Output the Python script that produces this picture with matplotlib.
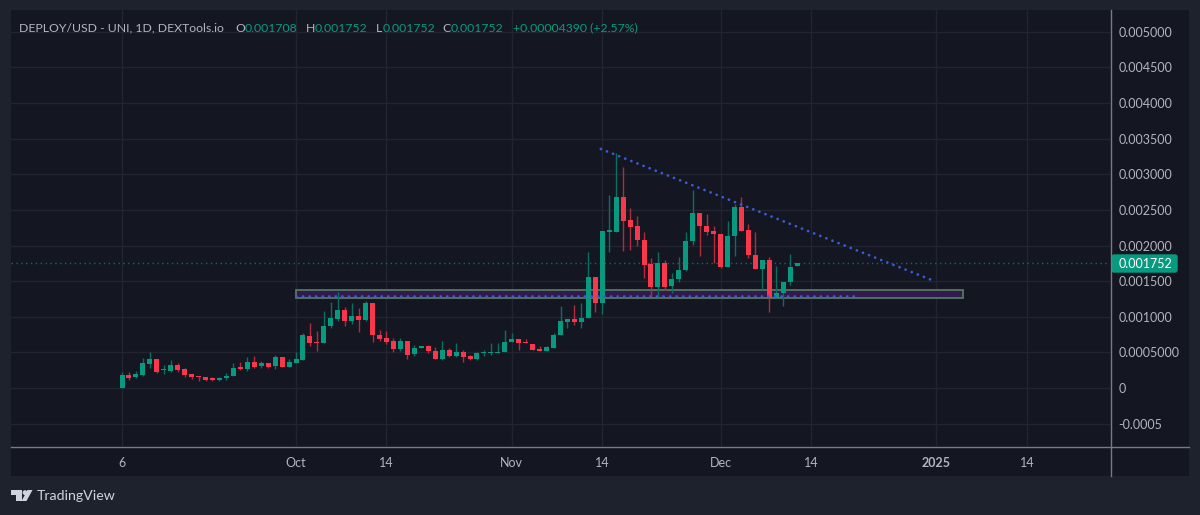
import numpy as np
import matplotlib
matplotlib.use('Agg')
import matplotlib.pyplot as plt
from matplotlib.patches import Rectangle, Polygon, Circle, FancyBboxPatch

plt.rcParams['font.family'] = ['Lato', 'DejaVu Sans']

# OHLC per day, first candle is Sep 6, values in millionths of a dollar
opens = [5, 183, 150, 183, 341, 407, 253, 243, 319, 267, 192, 168, 150, 136, 112, 136, 173, 291, 271, 361,
         309, 347, 309, 431, 295, 355, 393, 734, 650, 628, 870, 965, 1099, 945, 1011, 959, 1193, 744, 698, 656,
         552, 664, 473, 562, 590, 524, 403, 534, 445, 501, 449, 403, 487, 496, 496, 501, 646, 688, 646, 618,
         552, 524, 566, 740, 922, 965, 931, 987, 1554, 1189, 2194, 2194, 2686, 2359, 2270, 2078, 1741, 1414, 1755, 1436,
         1530, 1661, 2064, 2453, 2279, 2204, 2166, 1695, 2138, 2541, 2214, 1871, 1671, 1793, 1264, 1330, 1488, 1708]
highs = [225, 229, 243, 425, 505, 407, 319, 393, 347, 277, 192, 168, 150, 150, 159, 215, 347, 365, 435, 449,
         379, 347, 463, 431, 403, 505, 776, 908, 804, 1081, 1203, 1348, 1141, 1189, 1123, 1226, 1193, 814, 796, 698,
         698, 664, 604, 590, 604, 580, 656, 566, 628, 534, 459, 501, 534, 636, 628, 814, 768, 688, 688, 618,
         590, 585, 768, 1155, 965, 1170, 1198, 1914, 1554, 2204, 2710, 3295, 3099, 2523, 2415, 2195, 1821, 1905, 1797, 1610,
         1835, 2186, 2787, 2453, 2450, 2274, 2166, 2349, 2583, 2677, 2307, 2195, 1793, 1843, 1713, 1488, 1877, 1752]
lows = [0, 112, 136, 168, 285, 206, 197, 229, 220, 150, 131, 98, 94, 94, 98, 117, 168, 253, 243, 277,
        277, 277, 263, 295, 295, 347, 393, 594, 524, 628, 847, 936, 875, 894, 782, 945, 642, 656, 618, 510,
        519, 403, 453, 562, 487, 403, 393, 431, 431, 369, 393, 393, 449, 459, 496, 501, 646, 534, 628, 534,
        524, 519, 566, 740, 847, 885, 847, 987, 1067, 1039, 1914, 2194, 1923, 1938, 1994, 1540, 1282, 1282, 1376, 1330,
        1492, 1647, 2008, 1853, 2148, 1759, 1678, 1695, 1853, 2208, 1821, 1671, 1376, 1071, 1264, 1151, 1442, 1708]
closes = [183, 136, 197, 347, 407, 229, 271, 319, 253, 183, 154, 154, 112, 117, 140, 173, 281, 271, 361, 299,
          347, 299, 431, 295, 361, 403, 744, 636, 632, 875, 979, 1099, 945, 1011, 959, 1193, 740, 684, 646, 552,
          664, 468, 562, 590, 519, 403, 529, 445, 501, 435, 403, 487, 505, 505, 510, 650, 688, 628, 628, 534,
          524, 576, 748, 936, 965, 922, 987, 1554, 1189, 2204, 2218, 2686, 2349, 2256, 2074, 1731, 1414, 1755, 1422, 1530,
          1661, 2068, 2453, 2274, 2195, 2162, 1695, 2138, 2541, 2208, 1867, 1671, 1793, 1268, 1330, 1488, 1699, 1752]

price_ticks = [-0.0005, 0, 0.0005, 0.001, 0.0015, 0.002, 0.0025, 0.003, 0.0035, 0.004, 0.0045, 0.005]
price_labels = ['-0.0005', '0', '0.0005000', '0.001000', '0.001500', '0.002000', '0.002500', '0.003000',
                '0.003500', '0.004000', '0.004500', '0.005000']
date_ticks = [0, 25, 38, 56, 69, 86, 99, 117, 130]
date_labels = ['6', 'Oct', '14', 'Nov', '14', 'Dec', '14', '2025', '14']

last_price = 0.001752
trend_days = [68.8, 116.7]
trend_prices = [0.003356, 0.001502]
support_days = [25, 105.7]
support_price = 0.001285
zone_days = [25, 120.8]
zone_prices = [0.001264, 0.001383]

OUTER = '#1e222d'
PANEL = '#141722'
GRID = '#22252f'
AXIS = '#787b86'
TEXT = '#b2b5be'
GREEN = '#089981'
RED = '#f7374b'
DOTS = '#3a5cdc'
FS = 9.0

fig = plt.figure(figsize=(12, 5.15), dpi=100, facecolor=OUTER)

# panel behind the chart, coordinates are screen pixels
back = fig.add_axes([0, 0, 1, 1], zorder=0)
back.set_xlim(0, 1200)
back.set_ylim(515, 0)
back.axis('off')
back.add_patch(Rectangle((11, 10), 1178, 466, fc=PANEL, ec='none'))

ax = fig.add_axes([11 / 1200, 1 - 446 / 515, 1099 / 1200, 436 / 515], zorder=1)
ax.set_facecolor(PANEL)
ax.set_xlim(-15.95, 141.95)
ax.set_ylim(-0.000814, 0.005307)
for side in ax.spines.values():
    side.set_visible(False)

ax.yaxis.tick_right()
ax.set_yticks(price_ticks, price_labels)
ax.set_xticks(date_ticks, date_labels)
ax.tick_params(axis='y', length=0, pad=6, labelsize=FS, labelcolor=TEXT)
ax.tick_params(axis='x', length=0, pad=8, labelsize=FS, labelcolor=TEXT)
ax.get_xticklabels()[7].set_fontweight('bold')
ax.grid(True, color=GRID, linewidth=1)
ax.set_axisbelow(True)

days = np.arange(len(opens))
o = np.array(opens) / 1e6
h = np.array(highs) / 1e6
l = np.array(lows) / 1e6
c = np.array(closes) / 1e6
colors = [GREEN if b >= a else RED for a, b in zip(o, c)]
wick_colors = ['#0b6f60' if b >= a else '#b02c3c' for a, b in zip(o, c)]

# drawings sit under the candles, only the dotted lines go on top
ax.add_patch(Rectangle((zone_days[0], zone_prices[0]), zone_days[1] - zone_days[0], zone_prices[1] - zone_prices[0],
                       fc='#321a4e', ec='#56785f', linewidth=1.3, zorder=2.5))
ax.vlines(days, l, h, colors=wick_colors, linewidth=1, zorder=3)
ax.bar(days, np.abs(c - o), bottom=np.minimum(o, c), width=0.72, color=colors, linewidth=0, zorder=4)

ax.plot(support_days, [support_price, support_price], color=DOTS, linewidth=2.0,
        linestyle=(0, (0.01, 2.35)), dash_capstyle='round', zorder=6)
ax.plot(trend_days, trend_prices, color=DOTS, linewidth=2.0,
        linestyle=(0, (0.01, 2.35)), dash_capstyle='round', zorder=6)
ax.axhline(last_price, color='#0b6f60', linewidth=1, linestyle=(0, (1, 2.5)), zorder=2)

# header, frame lines, price tag and logo
top = fig.add_axes([0, 0, 1, 1], zorder=2)
top.set_xlim(0, 1200)
top.set_ylim(515, 0)
top.axis('off')
top.patch.set_alpha(0)

top.plot([1110.5, 1110.5], [10, 476], color=AXIS, linewidth=1)
top.plot([11, 1189], [446.5, 446.5], color=AXIS, linewidth=1)

header = [(19, 'DEPLOY/USD - UNI, 1D, DEXTools.io', TEXT), (235, 'O', TEXT), (245, '0.001708', GREEN),
          (306, 'H', TEXT), (315, '0.001752', GREEN), (376, 'L', TEXT), (383, '0.001752', GREEN),
          (442, 'C', TEXT), (451, '0.001752', GREEN), (513, '+0.00004390 (+2.57%)', GREEN)]
for x, s, col in header:
    top.text(x, 28, s, color=col, fontsize=8.8, va='center', ha='left')

top.add_patch(FancyBboxPatch((1112, 255), 65, 17, boxstyle='round,pad=0,rounding_size=2', fc=GREEN, ec=GREEN, linewidth=1))
top.text(1119, 263.5, '0.001752', color='white', fontsize=FS, va='center', ha='left')

top.add_patch(Polygon([(11, 490), (22, 490), (22, 501), (16, 501), (16, 495), (11, 495)], fc='#d1d4dc', ec='none'))
top.add_patch(Circle((25, 492.6), 2.4, fc='#d1d4dc', ec='none'))
top.add_patch(Polygon([(27.5, 490), (32.5, 490), (26.5, 501), (21.5, 501)], fc='#d1d4dc', ec='none'))
top.text(37, 496, 'TradingView', color='#d1d4dc', fontsize=10.2, va='center', ha='left')

fig.savefig('out.png', dpi=100, facecolor=OUTER)
